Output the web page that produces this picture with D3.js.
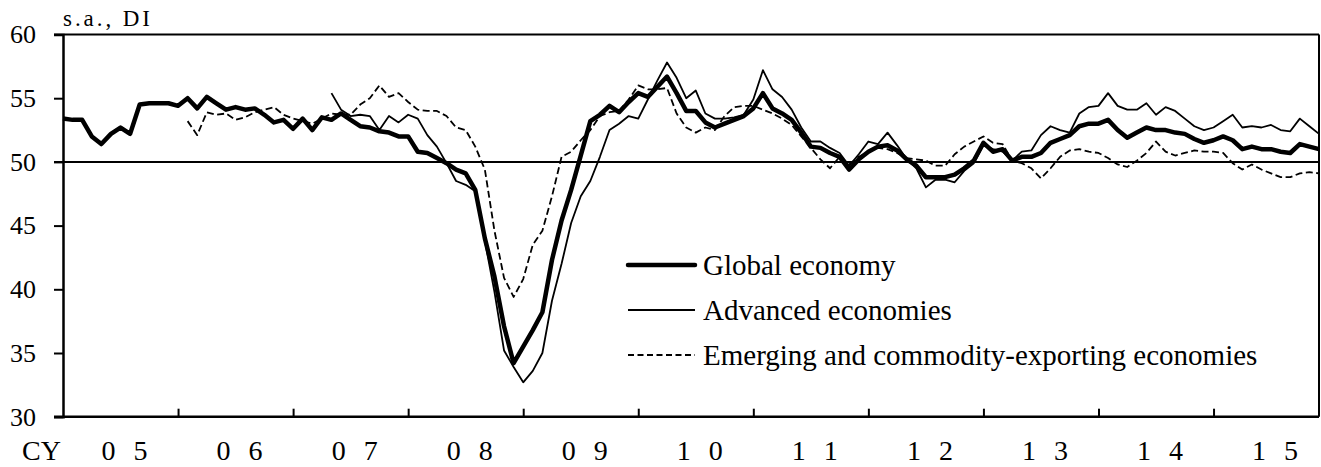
<!DOCTYPE html>
<html>
<head>
<meta charset="utf-8">
<script src="https://cdn.jsdelivr.net/npm/d3@7"></script>
<style>
  body { margin: 0; background: #fff; }
  svg { display: block; }
  svg text { font-family: "Liberation Serif", "Times New Roman", serif; fill: #000; }
</style>
</head>
<body>
<div id="chart"></div>
<script>
// monthly index, Jan 2005 (0) .. Dec 2015 (131)
const yearLabels = ["05", "06", "07", "08", "09", "10", "11", "12", "13", "14", "15"];
const yTicks = [30, 35, 40, 45, 50, 55, 60];

const globalEconomy = [
  53.4, 53.3, 53.3, 52.0, 51.4, 52.2, 52.7, 52.2, 54.5, 54.6, 54.6, 54.6,
  54.4, 55.0, 54.2, 55.1, 54.6, 54.1, 54.3, 54.1, 54.2, 53.7, 53.1, 53.3,
  52.6, 53.4, 52.5, 53.5, 53.3, 53.8, 53.3, 52.8, 52.7, 52.4, 52.3, 52.0,
  52.0, 50.8, 50.7, 50.3, 49.9, 49.4, 49.1, 47.8, 44.0, 41.0, 37.1, 34.2,
  35.5, 36.8, 38.2, 42.3, 45.4, 47.8, 50.5, 53.2, 53.7, 54.4, 53.9, 54.7,
  55.4, 55.1, 55.9, 56.7, 55.4, 54.0, 54.0, 53.1, 52.7, 53.0, 53.3, 53.6,
  54.2, 55.4, 54.2, 53.8, 53.3, 52.3, 51.2, 51.1, 50.7, 50.4, 49.4, 50.2,
  50.8, 51.2, 51.3, 50.9, 50.2, 49.7, 48.8, 48.8, 48.8, 49.0, 49.5, 50.1,
  51.5, 50.8, 51.0, 50.1, 50.4, 50.4, 50.7, 51.5, 51.8, 52.1, 52.8, 53.0,
  53.0, 53.3, 52.5, 51.9, 52.3, 52.7, 52.5, 52.5, 52.3, 52.2, 51.8, 51.5,
  51.7, 52.0, 51.7, 51.0, 51.2, 51.0, 51.0, 50.8, 50.7, 51.4, 51.2, 51.0
];

const advancedEconomies = [
  null, null, null, null, null, null, null, null, null, null, null, null,
  null, null, null, null, null, null, null, null, null, null, null, null,
  null, null, null, null, 55.4, 54.1, 53.6, 53.7, 53.6, 52.5, 53.6, 53.1,
  53.7, 53.4, 52.1, 51.2, 49.9, 48.5, 48.2, 47.7, 43.8, 39.8, 35.2, 33.9,
  32.7, 33.6, 35.0, 39.1, 42.0, 45.2, 47.3, 48.5, 50.4, 52.5, 53.0, 53.6,
  53.4, 54.9, 56.4, 57.8, 56.6, 55.0, 55.6, 53.8, 53.4, 53.4, 53.5, 53.7,
  54.9, 57.2, 55.7, 55.1, 54.1, 52.7, 51.6, 51.6, 51.1, 50.7, 49.7, 50.6,
  51.6, 51.4, 52.3, 51.3, 50.2, 49.5, 48.0, 48.6, 48.6, 48.4, 49.3, 49.9,
  51.3, 51.0, 50.8, 50.1, 50.8, 50.9, 52.1, 52.8, 52.5, 52.3, 53.8, 54.3,
  54.4, 55.4, 54.4, 54.1, 54.1, 54.6, 53.7, 54.3, 54.0, 53.4, 52.8, 52.5,
  52.7, 53.2, 53.7, 52.7, 52.8, 52.7, 52.9, 52.5, 52.4, 53.4, 52.8, 52.2
];

const emergingEconomies = [
  null, null, null, null, null, null, null, null, null, null, null, null,
  null, 53.2, 52.1, 53.9, 53.7, 53.8, 53.3, 53.5, 53.9, 54.1, 54.3, 53.7,
  53.4, 53.2, 53.0, 53.4, 53.8, 53.7, 53.7, 54.5, 55.0, 56.0, 55.1, 55.4,
  54.7, 54.1, 54.0, 54.0, 53.6, 52.7, 52.5, 51.2, 49.4, 44.6, 40.9, 39.4,
  40.8, 43.5, 44.6, 47.3, 50.4, 50.8, 51.7, 52.5, 53.6, 53.9, 54.0, 54.9,
  56.0, 55.7, 55.7, 55.8, 53.8, 52.7, 52.3, 52.7, 52.5, 53.6, 54.3, 54.4,
  54.4, 54.1, 53.8, 53.4, 52.9, 52.0, 51.1, 50.2, 49.5, 50.4, 49.8, 50.4,
  50.8, 51.1, 51.0, 50.7, 50.3, 50.2, 50.1, 49.7, 49.7, 50.6, 51.2, 51.6,
  52.0, 51.5, 51.4, 50.1, 49.9, 49.5, 48.7, 49.5, 50.4, 50.9, 51.0, 50.8,
  50.7, 50.3, 49.8, 49.6, 50.1, 50.7, 51.6, 50.8, 50.5, 50.7, 50.9, 50.8,
  50.8, 50.7, 49.9, 49.4, 49.8, 49.4, 49.1, 48.8, 48.8, 49.1, 49.2, 49.1
];

const seriesNames = ["Global economy", "Advanced economies", "Emerging and commodity-exporting economies"];

const w = 1321, h = 467;
const padLeft = 63, padRight = 1319, padTop = 34.5, padBottom = 416.7;

const svg = d3.select("#chart").append("svg")
  .attr("width", w)
  .attr("height", h);

const xScale = d3.scaleLinear().domain([0, globalEconomy.length - 1]).range([padLeft, padRight]);
const yScale = d3.scaleLinear().domain([30, 60]).range([padBottom, padTop]);

// reference line at 50 and the top border
[50, 60].forEach(v => {
  svg.append("line")
    .attr("x1", padLeft - 9).attr("x2", padRight)
    .attr("y1", yScale(v)).attr("y2", yScale(v))
    .attr("stroke", "#000").attr("stroke-width", 2);
});
svg.append("line")
  .attr("x1", padRight).attr("x2", padRight)
  .attr("y1", padTop).attr("y2", padBottom)
  .attr("stroke", "#000").attr("stroke-width", 2);

// y axis
const yAxis = d3.axisLeft(yScale)
  .tickValues(yTicks)
  .tickSize(9)
  .tickPadding(18)
  .tickFormat(d3.format("d"));
const gy = svg.append("g")
  .attr("transform", "translate(" + padLeft + ",0)")
  .call(yAxis)
  .attr("font-family", null);
gy.select(".domain").attr("stroke-width", 2.5);
gy.selectAll(".tick line").attr("stroke-width", 2);
gy.selectAll(".tick text")
  .attr("font-size", 26);

// x axis, ticks at each January, pointing inward
const xAxis = d3.axisBottom(xScale)
  .tickValues(d3.range(12, globalEconomy.length, 12))
  .tickSizeInner(-8)
  .tickSizeOuter(0)
  .tickFormat("");
const gx = svg.append("g")
  .attr("transform", "translate(0," + padBottom + ")")
  .call(xAxis);
gx.select(".domain").attr("stroke-width", 2.5).attr("d", "M" + (padLeft - 9) + ",0H" + padRight);
gx.selectAll(".tick line").attr("stroke-width", 2);

const xl = svg.append("g")
  .attr("font-size", 28);
xl.append("text").attr("x", 22).attr("y", 460).text("CY");
yearLabels.forEach((lab, k) => {
  const cx = xScale(k * 12 + 6) + 4;
  xl.append("text").attr("x", cx - 16).attr("y", 460).attr("text-anchor", "middle").text(lab[0]);
  xl.append("text").attr("x", cx + 16).attr("y", 460).attr("text-anchor", "middle").text(lab[1]);
});

svg.append("text")
  .attr("x", 63).attr("y", 26)
  .attr("font-size", 23)
  .attr("textLength", 87)
  .attr("lengthAdjust", "spacing")
  .text("s.a., DI");

// lines
const line = d3.line()
  .defined(d => d != null)
  .x((d, i) => xScale(i))
  .y(d => yScale(d));

const styles = [
  { data: globalEconomy, width: 4.5, dash: null },
  { data: advancedEconomies, width: 1.8, dash: null },
  { data: emergingEconomies, width: 1.8, dash: "7,3.5" }
];

styles.slice().reverse().forEach(s => {
  svg.append("path")
    .datum(s.data)
    .attr("fill", "none")
    .attr("stroke", "#000")
    .attr("stroke-width", s.width)
    .attr("stroke-linejoin", "round")
    .attr("stroke-dasharray", s.dash)
    .attr("d", line);
});

// legend
const legendY = [265, 310, 355];
styles.forEach((s, i) => {
  svg.append("line")
    .attr("x1", 628).attr("x2", 695)
    .attr("y1", legendY[i]).attr("y2", legendY[i])
    .attr("stroke", "#000")
    .attr("stroke-width", s.width)
    .attr("stroke-linecap", i == 0 ? "round" : "butt")
    .attr("stroke-dasharray", i == 2 ? "6,3.5" : null);
  svg.append("text")
    .attr("x", 703).attr("y", legendY[i] + 10)
    .attr("font-size", 29)
    .text(seriesNames[i]);
});
</script>
</body>
</html>
